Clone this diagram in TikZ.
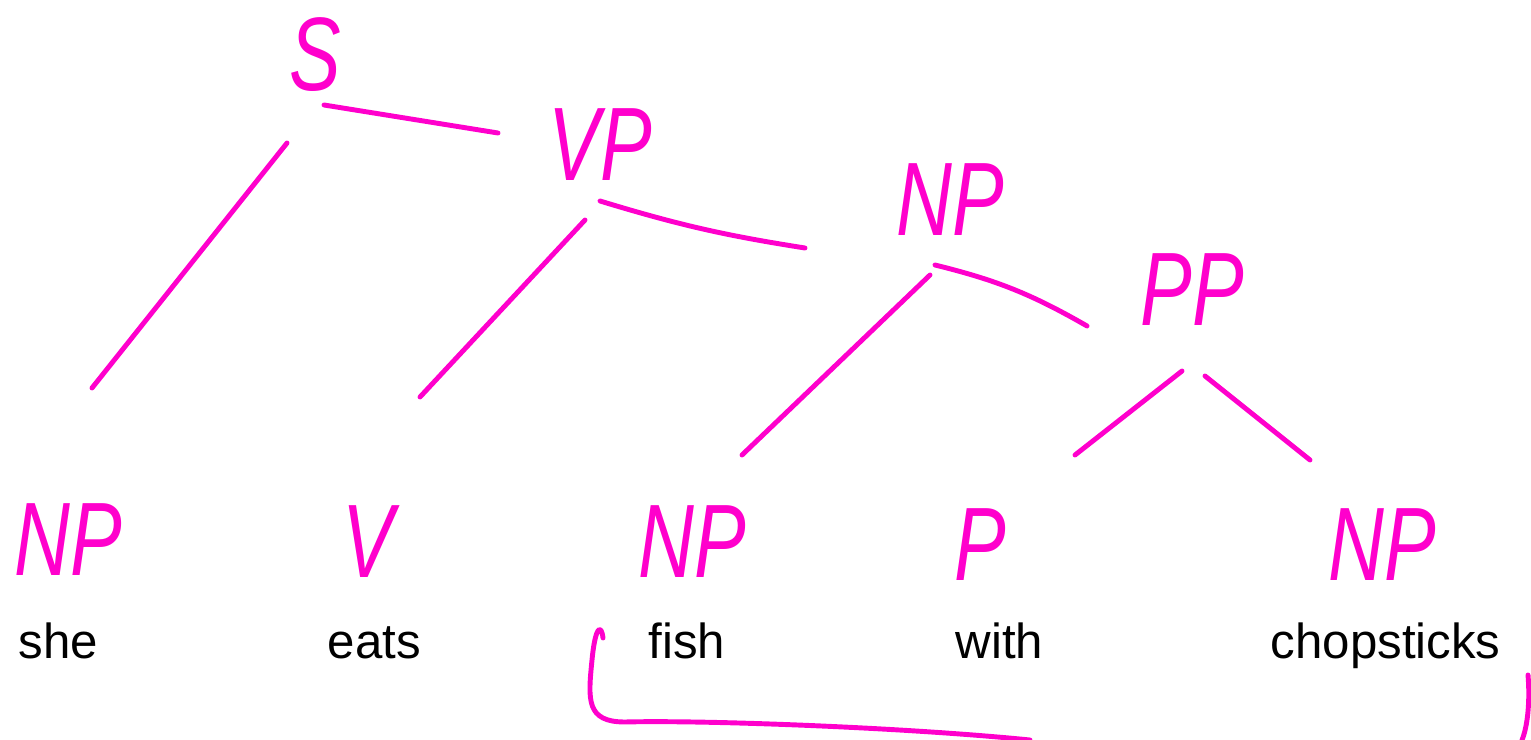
\documentclass[tikz,border=0pt]{standalone}
\usepackage{fontspec}
\setmainfont{Liberation Sans}
\definecolor{hand}{RGB}{255,0,204}
\newcommand{\handlab}[1]{\scalebox{1}[1.35]{#1}}
\begin{document}
\begin{tikzpicture}[x=0.01cm,y=-0.01cm]
\useasboundingbox (0,0) rectangle (1531,740);
\tikzset{
  lab/.style={text=hand, font=\itshape\fontsize{22}{22}\selectfont, inner sep=0pt},
  word/.style={font=\fontsize{14}{14}\selectfont, inner sep=0pt, anchor=base west},
  edge/.style={draw=hand, line width=1.4pt, line cap=round, line join=round}
}
% category labels
\node[lab] (S) at (315,55) {\handlab{S}};
\node[lab] (VP) at (600,145) {\handlab{VP}};
\node[lab] (NPobj) at (950,200) {\handlab{NP}};
\node[lab] (PP) at (1192,290) {\handlab{PP}};
\node[lab] (NPshe) at (68,540) {\handlab{NP}};
\node[lab] (V) at (368,542) {\handlab{V}};
\node[lab] (NPfish) at (692,542) {\handlab{NP}};
\node[lab] (P) at (980,545) {\handlab{P}};
\node[lab] (NPchop) at (1382,545) {\handlab{NP}};
% words
\node[word] (she) at (18,658) {she};
\node[word] (eats) at (327,658) {eats};
\node[word] (fish) at (648,658) {fish};
\node[word] (with) at (955,658) {with};
\node[word] (chop) at (1270,658) {chopsticks};
% connector end points
\coordinate (S-a) at (287,143);  \coordinate (NPshe-t) at (92,388);
\coordinate (S-b) at (324,105);  \coordinate (VP-l) at (498,133);
\coordinate (VP-a) at (585,220); \coordinate (V-t) at (420,397);
\coordinate (VP-b) at (600,201); \coordinate (NPobj-l) at (805,248);
\coordinate (NPobj-a) at (930,275); \coordinate (NPfish-t) at (742,455);
\coordinate (NPobj-b) at (935,265); \coordinate (PP-l) at (1087,326);
\coordinate (PP-a) at (1182,371); \coordinate (P-t) at (1075,455);
\coordinate (PP-b) at (1205,376); \coordinate (NPchop-t) at (1310,460);
% tree edges
\draw[edge] (S-a) -- (NPshe-t);
\draw[edge] (S-b) -- (VP-l);
\draw[edge] (VP-a) -- (V-t);
\draw[edge] (VP-b) to[bend right=4] (NPobj-l);
\draw[edge] (NPobj-a) -- (NPfish-t);
\draw[edge] (NPobj-b) to[bend left=8] (PP-l);
\draw[edge] (PP-a) -- (P-t);
\draw[edge] (PP-b) -- (NPchop-t);
% bracket under fish ... chopsticks
\coordinate (br-a) at (603,638);
\coordinate (br-b) at (1030,740);
\coordinate (br-c) at (1528,675);
\coordinate (br-d) at (1522,740);
\draw[edge] (br-a) .. controls (601,622) and (595,628) .. (592,660)
  .. controls (588,700) and (586,722) .. (625,722)
  .. controls (700,720) and (900,727) .. (br-b);
\draw[edge] (br-c) .. controls (1530,700) and (1528,725) .. (br-d);
\end{tikzpicture}
\end{document}
